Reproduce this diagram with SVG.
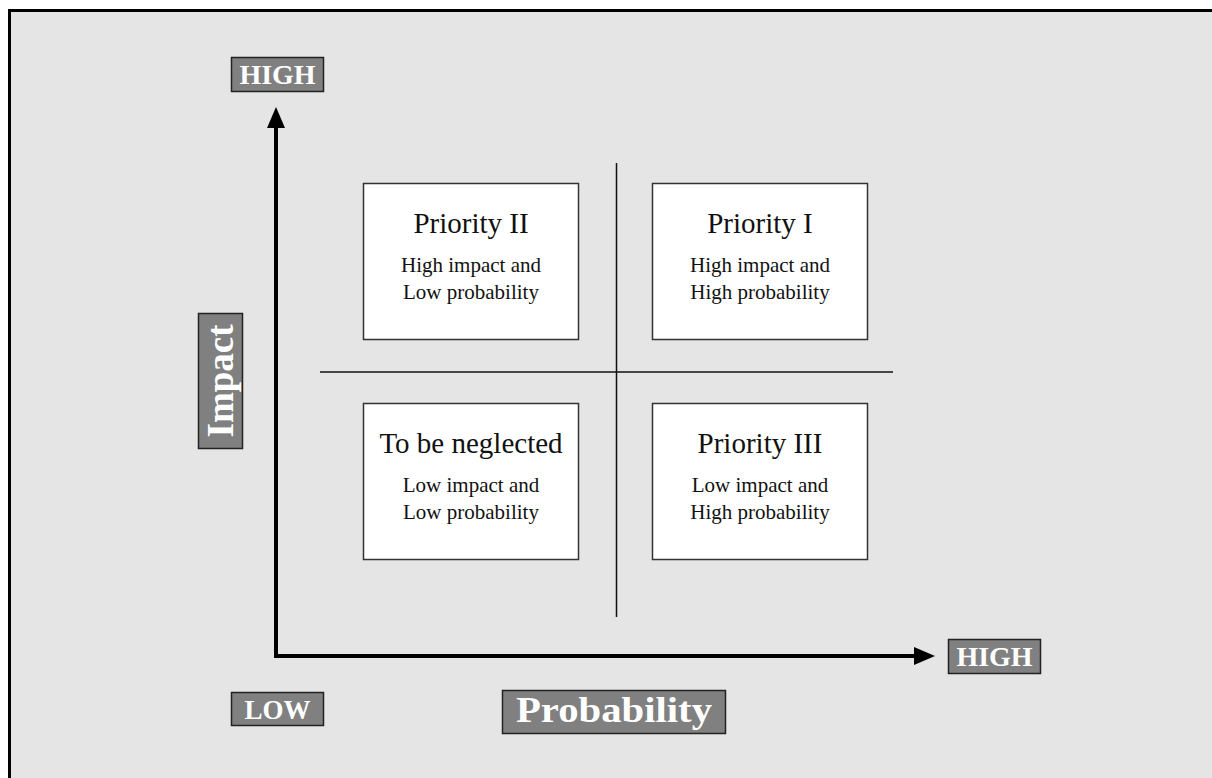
<svg xmlns="http://www.w3.org/2000/svg" width="1212" height="778" viewBox="0 0 1212 778">
<style>
.frame{fill:#e5e5e5;stroke:#000;stroke-width:3}
.box{fill:#fff;stroke:#333;stroke-width:1.5}
.lbl{fill:#808080;stroke:#222;stroke-width:1.5}
.lt{font-family:"Liberation Serif",serif;font-weight:bold;fill:#fff;text-anchor:middle}
.t1{font-family:"Liberation Serif",serif;font-size:29px;fill:#111;text-anchor:middle}
.t2{font-family:"Liberation Serif",serif;font-size:21px;fill:#111;text-anchor:middle}
.div{stroke:#111;stroke-width:1.5;fill:none}
.axis{stroke:#000;stroke-width:4;fill:none}
</style>
<defs>
<marker id="ah" markerUnits="userSpaceOnUse" markerWidth="22" markerHeight="18" refX="0" refY="9" orient="auto" overflow="visible">
<path d="M0,0 L21,9 L0,18 Z" fill="#000"/>
</marker>
</defs>
<rect class="frame" x="9.5" y="10.5" width="1220" height="800"/>
<g id="connectors">
<line class="div" x1="616.5" y1="163" x2="616.5" y2="617"/>
<line class="div" x1="320" y1="372" x2="893" y2="372"/>
<path class="axis" d="M276,658 L276,128" marker-end="url(#ah)"/>
<path class="axis" d="M274,656 L914,656" marker-end="url(#ah)"/>
</g>
<g id="q2">
<rect class="box" x="363.5" y="183.5" width="215" height="156"/>
<text class="t1" x="471" y="233">Priority II</text>
<text class="t2" x="471" y="272">High impact and</text>
<text class="t2" x="471" y="299">Low probability</text>
</g>
<g id="q1">
<rect class="box" x="652.5" y="183.5" width="215" height="156"/>
<text class="t1" x="760" y="233">Priority I</text>
<text class="t2" x="760" y="272">High impact and</text>
<text class="t2" x="760" y="299">High probability</text>
</g>
<g id="q4">
<rect class="box" x="363.5" y="403.5" width="215" height="156"/>
<text class="t1" x="471" y="453">To be neglected</text>
<text class="t2" x="471" y="492">Low impact and</text>
<text class="t2" x="471" y="519">Low probability</text>
</g>
<g id="q3">
<rect class="box" x="652.5" y="403.5" width="215" height="156"/>
<text class="t1" x="760" y="453">Priority III</text>
<text class="t2" x="760" y="492">Low impact and</text>
<text class="t2" x="760" y="519">High probability</text>
</g>
<g id="high-y">
<rect class="lbl" x="231.5" y="57.5" width="92" height="34"/>
<text class="lt" x="277.5" y="83.5" font-size="28">HIGH</text>
</g>
<g id="high-x">
<rect class="lbl" x="948.5" y="639.5" width="92" height="34"/>
<text class="lt" x="994.5" y="665.5" font-size="28">HIGH</text>
</g>
<g id="low">
<rect class="lbl" x="231.5" y="692.5" width="92" height="33"/>
<text class="lt" x="277.5" y="718.5" font-size="27">LOW</text>
</g>
<g id="impact">
<rect class="lbl" x="198.5" y="313.5" width="44" height="135"/>
<text class="lt" x="0" y="0" font-size="37" transform="translate(233,381) rotate(-90)">Impact</text>
</g>
<g id="probability">
<rect class="lbl" x="502.5" y="690.5" width="223" height="43"/>
<text class="lt" x="614" y="722" font-size="36" textLength="196" lengthAdjust="spacingAndGlyphs">Probability</text>
</g>
</svg>
